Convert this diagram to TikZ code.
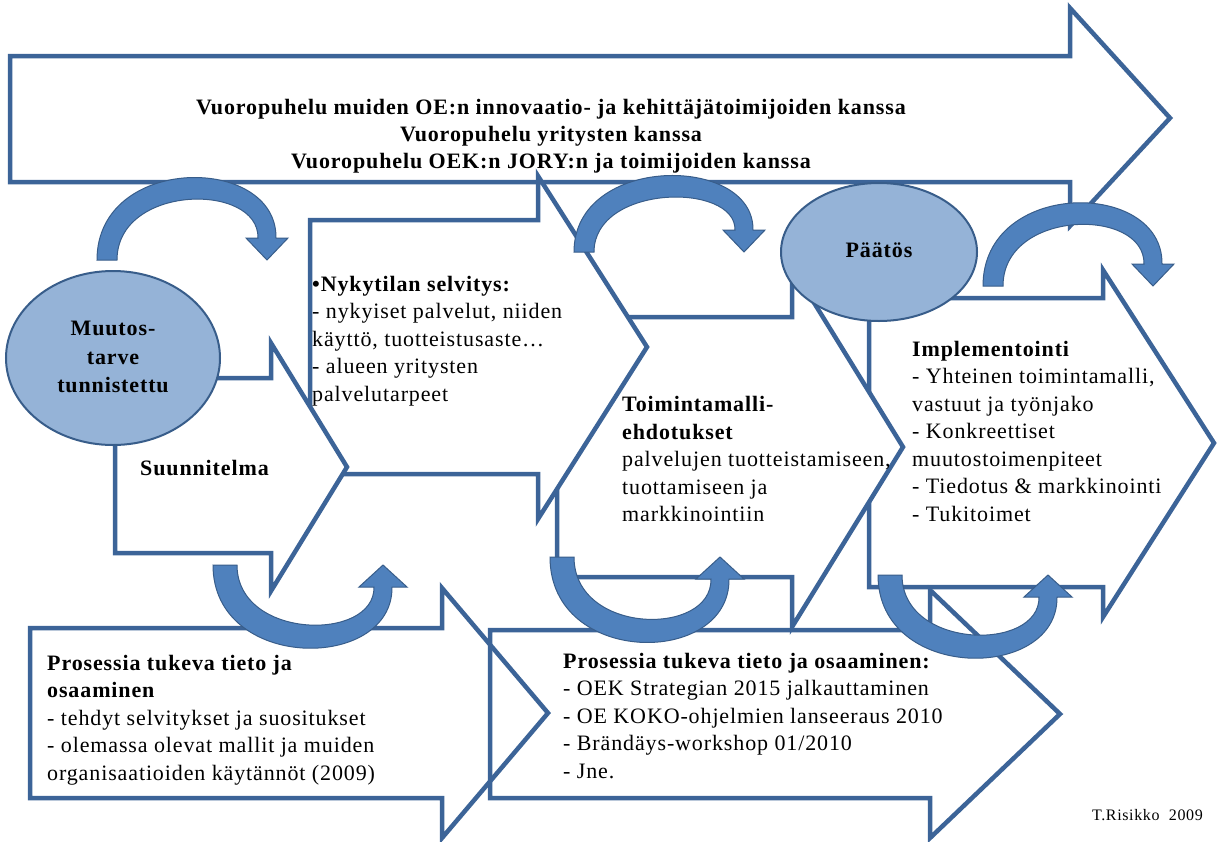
\documentclass[tikz,border=0pt]{standalone}
\usepackage{fontspec}
\setmainfont{Liberation Serif}[LetterSpace=4]
\usepackage{xcolor}
\usetikzlibrary{shapes.geometric}

\definecolor{blockline}{RGB}{60,100,152}
\definecolor{ovalfill}{RGB}{149,179,215}
\definecolor{ovalline}{RGB}{56,93,138}
\definecolor{curvefill}{RGB}{79,129,189}
\definecolor{curveline}{RGB}{56,93,138}

\tikzset{
  block/.style={draw=blockline, line width=4.5pt, fill=white},
  blockopen/.style={draw=blockline, line width=4.5pt},
  oval/.style={ellipse, draw=ovalline, line width=2pt, fill=ovalfill, inner sep=0pt},
  curve/.style={fill=curvefill, draw=curveline, line width=1pt},
  txt/.style={inner sep=0pt, align=left, font=\fontsize{22}{27.5}\selectfont},
  boldtxt/.style={txt, font=\fontsize{22}{27}\selectfont\bfseries},
}

\begin{document}
\begin{tikzpicture}[x=1pt,y=-1pt]

    \useasboundingbox[fill=white] (0,0) rectangle (1217,841);

    % Middle row of block arrows, back to front
    \draw[block] (869,298) -- (1103,298) -- (1103,270) -- (1214,443) -- (1103,617) -- (1103,587) -- (869,587) -- cycle;
    \draw[block] (557,317) -- (792,317) -- (792,267) -- (903,447) -- (792,627) -- (792,577) -- (557,577) -- cycle;

    % Big dialogue arrow
    \draw[block] (10,56) -- (1070,56) -- (1070,8) -- (1170,118) -- (1070,226) -- (1070,182) -- (10,182) -- cycle;

    \draw[block] (310,220) -- (538,220) -- (538,176) -- (647,347) -- (538,519) -- (538,474) -- (310,474) -- cycle;
    \draw[block] (115,378) -- (271,378) -- (271,343) -- (347,467) -- (271,591) -- (271,553) -- (115,553) -- cycle;

    % Bottom arrows (outlines only)
    \draw[blockopen] (490,630) -- (930,630) -- (930,590) -- (1060,714) -- (930,838) -- (930,798) -- (490,798) -- cycle;
    \draw[blockopen] (30,628) -- (442,628) -- (442,588) -- (548,713) -- (442,838) -- (442,798) -- (30,798) -- cycle;

    % Ovals
    \node[oval, minimum width=214pt, minimum height=174pt] (change) at (113,358) {};
    \node[oval, minimum width=196pt, minimum height=138pt] (decision) at (879,252) {};

    % Curved arrows over the top
    \foreach \cx/\cy/\h in {107/260/106, 584/252/98, 993/286/107} {
        \begin{scope}[shift={(\cx,\cy)}]
        \filldraw[curve] (-10,0) .. controls (-10,-\h) and (170,-\h) .. (169,-22) -- (181,-22) -- (160,0) -- (139,-22) -- (151,-22) .. controls (152,-\h+28) and (10,-\h+30) .. (10,0) -- cycle;
        \end{scope}
    }

    % Curved arrows underneath
    \foreach \cx/\cy/\h in {225/565/107, 562/557/110, 890/575/107} {
        \begin{scope}[shift={(\cx,\cy)}]
        \filldraw[curve] (-12,0) .. controls (-12,\h) and (168,\h) .. (167,22) -- (182,22) -- (158,0) -- (134,22) -- (149,22) .. controls (150,\h-30) and (12,\h-32) .. (12,0) -- cycle;
        \end{scope}
    }

    % Texts
    \node[boldtxt, align=center] (dialogue) at (551,136)
        {Vuoropuhelu muiden OE:n innovaatio- ja kehittäjätoimijoiden kanssa\\
         Vuoropuhelu yritysten kanssa\\
         Vuoropuhelu OEK:n JORY:n ja toimijoiden kanssa};
    \node[boldtxt, align=center, font=\fontsize{22}{28.5}\selectfont\bfseries] (changetext) at (113,357)
        {Muutos-\\tarve\\tunnistettu};
    \node[boldtxt] (decisiontext) at (879,250) {Päätös};
    \node[boldtxt, anchor=west] (plan) at (140,468) {Suunnitelma};

    \node[txt, anchor=west] (current) at (312,341)
        {\textbf{•Nykytilan selvitys:}\\
         - nykyiset palvelut, niiden\\
         käyttö, tuotteistusaste…\\
         - alueen yritysten\\
         palvelutarpeet};
    \node[txt, anchor=west] (models) at (622,459)
        {\textbf{Toimintamalli-}\\
         \textbf{ehdotukset}\\
         palvelujen tuotteistamiseen,\\
         tuottamiseen ja\\
         markkinointiin};
    \node[txt, anchor=west] (impl) at (912,431)
        {\textbf{Implementointi}\\
         - Yhteinen toimintamalli,\\
         vastuut ja työnjako\\
         - Konkreettiset\\
         muutostoimenpiteet\\
         - Tiedotus \& markkinointi\\
         - Tukitoimet};
    \node[txt, anchor=west] (knowa) at (47,720)
        {\textbf{Prosessia tukeva tieto ja}\\
         \textbf{osaaminen}\\
         - tehdyt selvitykset ja suositukset\\
         - olemassa olevat mallit ja muiden\\
         organisaatioiden käytännöt (2009)};
    \node[txt, anchor=west] (knowb) at (563,716)
        {\textbf{Prosessia tukeva tieto ja osaaminen:}\\
         - OEK Strategian 2015 jalkauttaminen\\
         - OE KOKO-ohjelmien lanseeraus 2010\\
         - Brändäys-workshop 01/2010\\
         - Jne.};
    \node[txt, anchor=east, font=\fontsize{16}{18}\selectfont] (sign) at (1203,815) {T.Risikko\ \ 2009};

\end{tikzpicture}
\end{document}
